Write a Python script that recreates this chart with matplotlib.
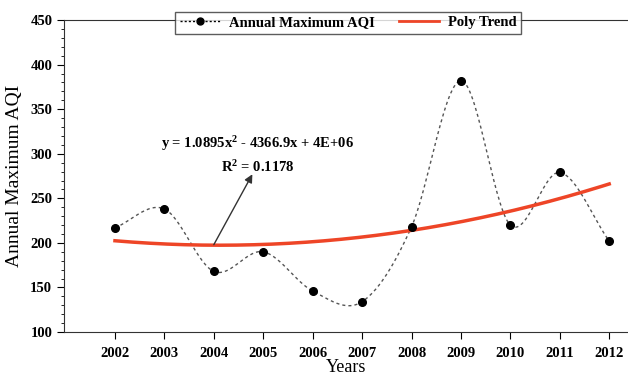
import numpy as np
import matplotlib
matplotlib.use('Agg')
import matplotlib.pyplot as plt
from matplotlib.ticker import MultipleLocator

years = [2002, 2003, 2004, 2005, 2006, 2007, 2008, 2009, 2010, 2011, 2012]
aqi_max = [217, 238, 168, 190, 146, 134, 218, 382, 220, 279, 202]
eq_text = 'y = 1.0895x$^{2}$ - 4366.9x + 4E+06'
r2_text = 'R$^{2}$ = 0.1178'

plt.rcParams['font.family'] = 'Liberation Serif'
plt.rcParams['mathtext.fontset'] = 'custom'
plt.rcParams['mathtext.rm'] = 'Liberation Serif:bold'
plt.rcParams['mathtext.it'] = 'Liberation Serif:bold'
plt.rcParams['mathtext.bf'] = 'Liberation Serif:bold'

x = np.array(years, dtype=float)
y = np.array(aqi_max, dtype=float)


# smooth line through the points (catmull-rom, like excel's smoothed line)
def smooth(xp, yp, n=30):
    px = np.concatenate([[2 * xp[0] - xp[1]], xp, [2 * xp[-1] - xp[-2]]])
    py = np.concatenate([[2 * yp[0] - yp[1]], yp, [2 * yp[-1] - yp[-2]]])
    xs, ys = [], []
    t = np.linspace(0, 1, n)
    for i in range(1, len(px) - 2):
        for arr, out in ((px, xs), (py, ys)):
            p0, p1, p2, p3 = arr[i - 1], arr[i], arr[i + 1], arr[i + 2]
            m1 = (p2 - p0) / 2
            m2 = (p3 - p1) / 2
            h = ((2 * t**3 - 3 * t**2 + 1) * p1 + (t**3 - 2 * t**2 + t) * m1
                 + (-2 * t**3 + 3 * t**2) * p2 + (t**3 - t**2) * m2)
            out.extend(h)
    return np.array(xs), np.array(ys)


sx, sy = smooth(x, y)

coef = np.polyfit(x - 2000, y, 2)
tx = np.linspace(2002, 2012, 200)
ty = np.polyval(coef, tx - 2000)

fig = plt.figure(figsize=(6.28, 3.79), dpi=100)
ax = fig.add_axes([0.102, 0.124, 0.898, 0.823])

ax.plot(sx, sy, color='#555555', linestyle=(0, (2.2, 2.2)), linewidth=1.0, zorder=2)
ax.plot(x, y, 'o', color='black', markersize=5.5, zorder=3)
ax.plot(tx, ty, color='#ee4527', linewidth=2.5, zorder=2)

# legend proxies
l1, = ax.plot([], [], color='black', linestyle=(0, (1.5, 1.5)), linewidth=1.0,
              marker='o', markersize=5)
l2, = ax.plot([], [], color='#ee4527', linewidth=2.0)
leg = ax.legend([l1, l2], ['Annual Maximum AQI', 'Poly Trend'], loc='upper center',
                bbox_to_anchor=(0.504, 1.05), ncol=2, frameon=True, fancybox=False,
                edgecolor='#333333', prop={'weight': 'bold', 'size': 10.5},
                handlelength=2.8, handletextpad=0.6, columnspacing=1.6, borderpad=0.3)
leg.get_frame().set_linewidth(1.0)

ax.annotate('', xy=(2004.78, 277), xytext=(2004.0, 198),
            arrowprops=dict(arrowstyle='-|>', color='#333333', lw=1.0,
                            mutation_scale=12, shrinkA=0, shrinkB=0))
ax.text(2004.88, 312, eq_text, ha='center', va='center', fontsize=10.5, fontweight='bold')
ax.text(2004.88, 285, r2_text, ha='center', va='center', fontsize=10.5, fontweight='bold')

ax.set_xlim(2000.97, 2012.38)
ax.set_ylim(100, 450)
ax.set_xticks(years)
ax.yaxis.set_major_locator(MultipleLocator(50))
ax.yaxis.set_minor_locator(MultipleLocator(10))
ax.tick_params(axis='both', which='major', direction='out', length=5, labelsize=10.5)
ax.tick_params(axis='x', pad=6)
ax.tick_params(axis='y', which='minor', direction='out', length=2.5)
for lab in ax.get_xticklabels() + ax.get_yticklabels():
    lab.set_fontweight('bold')

ax.spines['right'].set_visible(False)
for s in ('left', 'top', 'bottom'):
    ax.spines[s].set_color('#333333')

ax.set_xlabel('Years', fontsize=13, labelpad=-1)
ax.set_ylabel('Annual Maximum AQI', fontsize=14, labelpad=5)

fig.savefig('out.png', dpi=100)
